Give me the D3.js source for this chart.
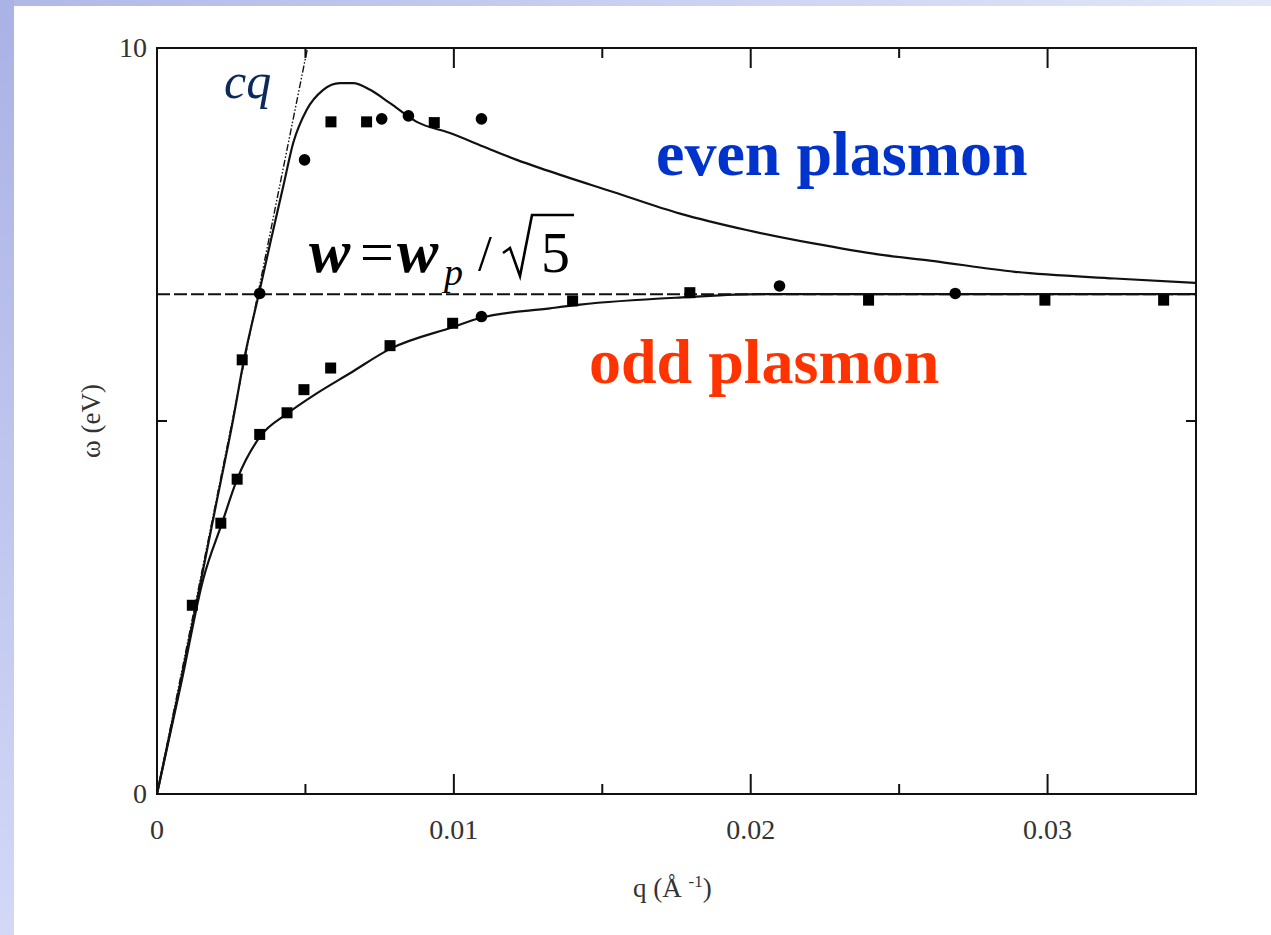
<!DOCTYPE html>
<html>
<head>
<meta charset="utf-8">
<script src="https://cdn.jsdelivr.net/npm/d3@7"></script>
<style>
  body { margin: 0; background: #fff; }
  svg { display: block; font-family: "Liberation Serif", "Times New Roman", serif; }
</style>
</head>
<body>
<div id="chart"></div>
<script>
// x ticks and labels
var xTicks = [0, 0.005, 0.01, 0.015, 0.02, 0.025, 0.03];
var xLabels = {0: "0", 0.01: "0.01", 0.02: "0.02", 0.03: "0.03"};
var yTicks = [0, 5, 10];
var yLabels = {0: "0", 10: "10"};

// light line cq (end points)
var lightQ = [0, 0.00507];
var lightW = [0, 10];

// asymptote w_p / sqrt(5)
var asymW = 6.70;

// even plasmon curve
var evenQ = [0, 0.00067, 0.00135, 0.00204, 0.00256, 0.00293, 0.00344, 0.00384, 0.00425, 0.00459,
             0.00504, 0.0056, 0.00616, 0.00661, 0.00718, 0.00785, 0.00875, 0.00987, 0.01099, 0.01212,
             0.01313, 0.01537, 0.01762, 0.01986, 0.02211, 0.02435, 0.02604, 0.0289, 0.03226, 0.035];
var evenW = [0, 1.26, 2.60, 3.98, 5.01, 5.82, 6.72, 7.43, 8.14, 8.73,
             9.17, 9.44, 9.53, 9.53, 9.44, 9.26, 9.01, 8.86, 8.68, 8.50,
             8.36, 8.07, 7.78, 7.56, 7.38, 7.23, 7.15, 7.00, 6.91, 6.85];

// odd plasmon curve
var oddQ = [0, 0.00084, 0.00155, 0.00219, 0.0027, 0.00347, 0.00439, 0.00538, 0.0065, 0.00787,
            0.00998, 0.01088, 0.01324, 0.01425, 0.01784, 0.02031, 0.035];
var oddW = [0, 1.53, 2.87, 3.63, 4.22, 4.79, 5.10, 5.37, 5.64, 5.97,
            6.26, 6.38, 6.51, 6.56, 6.66, 6.70, 6.70];

// measured points: circles
var circQ = [0.00497, 0.00757, 0.00847, 0.01093, 0.00346, 0.01093, 0.02097, 0.02689];
var circW = [8.50, 9.05, 9.09, 9.05, 6.71, 6.40, 6.81, 6.71];

// measured points: squares
var sqQ = [0.00586, 0.00706, 0.00934, 0.00287, 0.0027, 0.00346, 0.00438, 0.00495, 0.00585,
           0.00785, 0.00996, 0.0140, 0.01795, 0.02397, 0.02991, 0.03391, 0.00215, 0.00119];
var sqW = [9.01, 9.01, 9.00, 5.82, 4.22, 4.82, 5.11, 5.42, 5.71,
           6.01, 6.31, 6.61, 6.72, 6.62, 6.62, 6.62, 3.63, 2.53];

var width = 1271, height = 935;
var margin = {top: 48, right: 75, bottom: 141, left: 157};

var svg = d3.select("#chart").append("svg")
    .attr("width", width)
    .attr("height", height);

// slide background: lavender strips on the left and top
var defs = svg.append("defs");
var gLeft = defs.append("linearGradient").attr("id", "gl")
    .attr("x1", 0).attr("y1", 0).attr("x2", 0).attr("y2", 1);
gLeft.append("stop").attr("offset", 0).attr("stop-color", "#aab2e6");
gLeft.append("stop").attr("offset", 1).attr("stop-color", "#d2d8f6");
var gTop = defs.append("linearGradient").attr("id", "gt")
    .attr("x1", 0).attr("y1", 0).attr("x2", 1).attr("y2", 0);
gTop.append("stop").attr("offset", 0).attr("stop-color", "#b0b8e8");
gTop.append("stop").attr("offset", 1).attr("stop-color", "#e2e7f9");

svg.append("rect").attr("x", 0).attr("y", 0).attr("width", width).attr("height", 6).attr("fill", "url(#gt)");
svg.append("rect").attr("x", 0).attr("y", 0).attr("width", 14).attr("height", height).attr("fill", "url(#gl)");

var x = d3.scaleLinear()
    .domain([0, 0.035])
    .range([margin.left, width - margin.right]);

var y = d3.scaleLinear()
    .domain([0, 10])
    .range([height - margin.bottom, margin.top]);

var x0 = x(0), x1 = x(0.035), y0 = y(0), y1 = y(10);

// frame
svg.append("rect")
    .attr("x", x0).attr("y", y1)
    .attr("width", x1 - x0).attr("height", y0 - y1)
    .attr("fill", "none")
    .attr("stroke", "#111")
    .attr("stroke-width", 2);

// inward ticks on all four sides
var tickLen = d => (Math.abs(d * 100 - Math.round(d * 100)) < 1e-6 ? 20 : 10);
xTicks.forEach(function(d) {
  svg.append("line").attr("x1", x(d)).attr("x2", x(d))
     .attr("y1", y0).attr("y2", y0 - tickLen(d))
     .attr("stroke", "#111").attr("stroke-width", 2);
  svg.append("line").attr("x1", x(d)).attr("x2", x(d))
     .attr("y1", y1).attr("y2", y1 + tickLen(d))
     .attr("stroke", "#111").attr("stroke-width", 2);
});
yTicks.forEach(function(d) {
  svg.append("line").attr("x1", x0).attr("x2", x0 + 10)
     .attr("y1", y(d)).attr("y2", y(d))
     .attr("stroke", "#111").attr("stroke-width", 2);
  svg.append("line").attr("x1", x1).attr("x2", x1 - 10)
     .attr("y1", y(d)).attr("y2", y(d))
     .attr("stroke", "#111").attr("stroke-width", 2);
});

// tick labels
svg.selectAll(".xlab")
    .data(Object.keys(xLabels))
    .join("text")
    .attr("x", d => x(+d))
    .attr("y", y0 + 45)
    .attr("text-anchor", "middle")
    .attr("font-size", 28)
    .attr("fill", "#333")
    .text(d => xLabels[d]);

svg.selectAll(".ylab")
    .data(Object.keys(yLabels))
    .join("text")
    .attr("x", x0 - 10)
    .attr("y", d => y(+d) + 9)
    .attr("text-anchor", "end")
    .attr("font-size", 28)
    .attr("fill", "#333")
    .text(d => yLabels[d]);

// axis titles
var xt = svg.append("text")
    .attr("x", 633).attr("y", 897)
    .attr("font-size", 27)
    .attr("fill", "#333");
xt.append("tspan").text("q (Å ");
xt.append("tspan").attr("font-size", 17).attr("dy", -10).text("-1");
xt.append("tspan").attr("dy", 10).text(")");

svg.append("text")
    .attr("transform", "translate(100," + ((y0 + y1) / 2) + ") rotate(-90)")
    .attr("text-anchor", "middle")
    .attr("font-size", 27)
    .attr("fill", "#333")
    .text("ω (eV)");

// asymptote line
svg.append("line")
    .attr("x1", x0).attr("x2", x1)
    .attr("y1", y(asymW)).attr("y2", y(asymW))
    .attr("stroke", "#111")
    .attr("stroke-width", 2)
    .attr("stroke-dasharray", "13,4");

// light line cq
var line = d3.line().x(d => x(d[0])).y(d => y(d[1]));
svg.append("path")
    .attr("d", line(d3.zip(lightQ, lightW)))
    .attr("fill", "none")
    .attr("stroke", "#111")
    .attr("stroke-width", 1.4)
    .attr("stroke-dasharray", "7,2,1.5,2,1.5,2");

// model curves
var curve = d3.line().x(d => x(d[0])).y(d => y(d[1])).curve(d3.curveMonotoneX);
svg.append("path")
    .attr("d", curve(d3.zip(evenQ, evenW)))
    .attr("fill", "none")
    .attr("stroke", "#111")
    .attr("stroke-width", 2.2);
svg.append("path")
    .attr("d", curve(d3.zip(oddQ, oddW)))
    .attr("fill", "none")
    .attr("stroke", "#111")
    .attr("stroke-width", 2.2);

// measured points
svg.selectAll(".circ")
    .data(d3.zip(circQ, circW))
    .join("circle")
    .attr("cx", d => x(d[0]))
    .attr("cy", d => y(d[1]))
    .attr("r", 5.8)
    .attr("fill", "#000");

svg.selectAll(".sq")
    .data(d3.zip(sqQ, sqW))
    .join("rect")
    .attr("x", d => x(d[0]) - 5.5)
    .attr("y", d => y(d[1]) - 5.5)
    .attr("width", 11)
    .attr("height", 11)
    .attr("fill", "#000");

// annotations
svg.append("text")
    .attr("x", 224).attr("y", 98)
    .attr("font-size", 50)
    .attr("font-style", "italic")
    .attr("fill", "#0b2a5b")
    .text("cq");

svg.append("text")
    .attr("x", 656).attr("y", 175)
    .attr("font-size", 64)
    .attr("font-weight", "bold")
    .attr("fill", "#0033cc")
    .text("even plasmon");

svg.append("text")
    .attr("x", 589).attr("y", 383)
    .attr("font-size", 64)
    .attr("font-weight", "bold")
    .attr("fill", "#ff3300")
    .text("odd plasmon");

// formula w = w_p / sqrt(5)
var f = svg.append("g").attr("fill", "#000");
f.append("text").attr("x", 309).attr("y", 272).attr("font-size", 62)
    .attr("font-style", "italic").attr("font-weight", "bold").text("w");
f.append("text").attr("x", 360).attr("y", 272).attr("font-size", 60).text("=");
f.append("text").attr("x", 397).attr("y", 272).attr("font-size", 62)
    .attr("font-style", "italic").attr("font-weight", "bold").text("w");
f.append("text").attr("x", 444).attr("y", 285).attr("font-size", 38)
    .attr("font-style", "italic").text("p");
f.append("text").attr("x", 478).attr("y", 270).attr("font-size", 50).text("/");
f.append("path")
    .attr("d", "M503,253 L510,248 L520,276 L532,215 L574,215")
    .attr("fill", "none")
    .attr("stroke", "#000")
    .attr("stroke-width", 2.6);
f.append("text").attr("x", 541).attr("y", 272).attr("font-size", 58).text("5");
</script>
</body>
</html>
